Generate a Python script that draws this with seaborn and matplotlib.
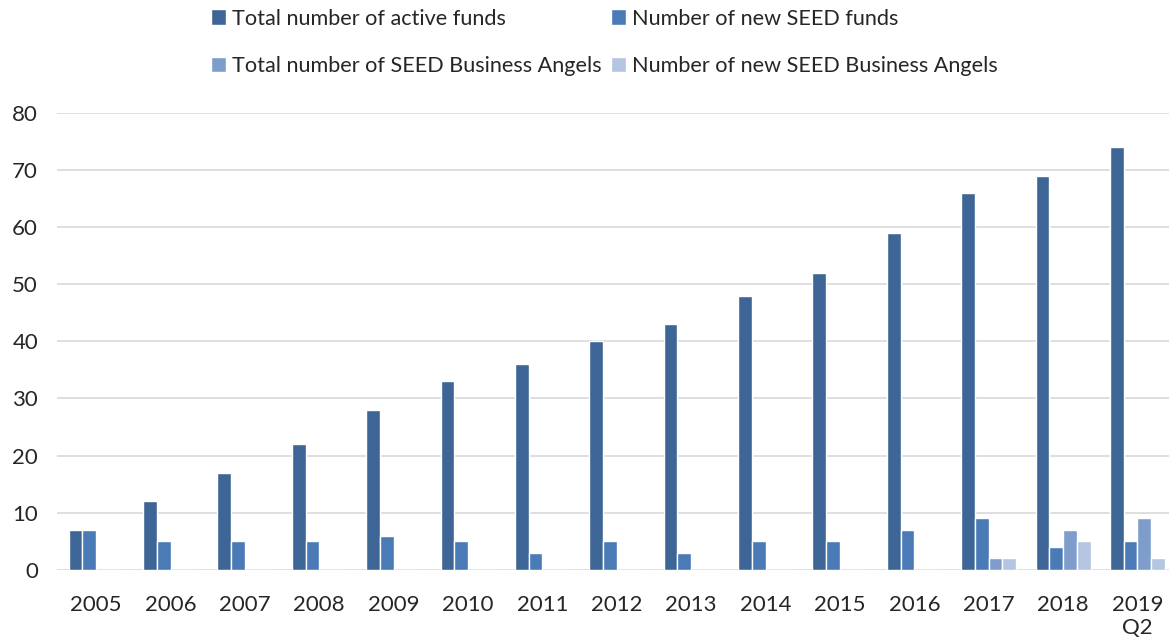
import pandas as pd
import matplotlib
matplotlib.use("Agg")
import matplotlib.pyplot as plt
import seaborn as sns
from matplotlib.patches import Patch

years = ["2005", "2006", "2007", "2008", "2009", "2010", "2011", "2012",
         "2013", "2014", "2015", "2016", "2017", "2018", "2019\nQ2"]
active_funds = [7, 12, 17, 22, 28, 33, 36, 40, 43, 48, 52, 59, 66, 69, 74]
new_funds = [7, 5, 5, 5, 6, 5, 3, 5, 3, 5, 5, 7, 9, 4, 5]
total_angels = [0, 0, 0, 0, 0, 0, 0, 0, 0, 0, 0, 0, 2, 7, 9]
new_angels = [0, 0, 0, 0, 0, 0, 0, 0, 0, 0, 0, 0, 2, 5, 2]

series = ["Total number of active funds", "Number of new SEED funds",
          "Total number of SEED Business Angels", "Number of new SEED Business Angels"]
colors = ["#3D6696", "#4A7BB7", "#7E9DCB", "#B3C5E1"]

rows = []
for name, vals in zip(series, [active_funds, new_funds, total_angels, new_angels]):
    for y, v in zip(years, vals):
        rows.append({"year": y, "series": name, "value": v})
df = pd.DataFrame(rows)

sns.set_style("white")
plt.rcParams["font.family"] = ["Lato", "DejaVu Sans"]

fig = plt.figure(figsize=(11.73, 6.41), dpi=100)
ax = fig.add_axes([0.049, 0.111, 0.948, 0.713])
sns.barplot(data=df, x="year", y="value", hue="series", hue_order=series,
            palette=colors, saturation=1, width=0.74, edgecolor="white", linewidth=1,
            legend=False, ax=ax)

ax.set_ylim(0, 80)
ax.set_yticks(range(0, 81, 10))
ax.grid(axis="y", color="#D9D9D9", linewidth=1.2)
ax.set_axisbelow(True)
for s in ax.spines.values():
    s.set_visible(False)
ax.set_xlabel("")
ax.set_ylabel("")
ax.tick_params(axis="both", length=0, labelsize=16)
ax.tick_params(axis="x", pad=18)
ax.tick_params(axis="y", pad=14)
ax.set_xlim(-0.52, len(years) - 0.57)

# legend filled row by row like the original
order = [0, 2, 1, 3]
handles = [Patch(facecolor=colors[i]) for i in order]
labels = [series[i] for i in order]
fig.legend(handles, labels, ncol=2, loc="upper left", bbox_to_anchor=(0.163, 1.017),
           frameon=False, fontsize=15.6, handlelength=0.7, handleheight=0.7,
           handletextpad=0.3, columnspacing=0.4, labelspacing=1.25)

fig.savefig("out.png", dpi=100)
